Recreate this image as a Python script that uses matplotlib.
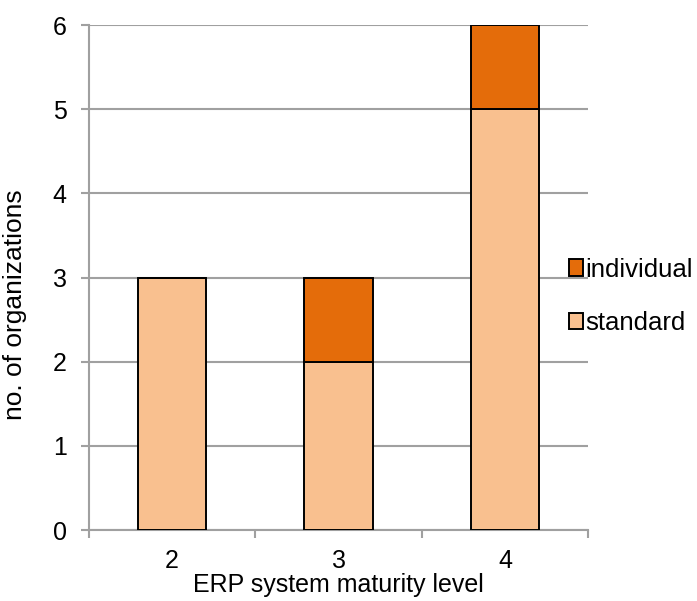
import numpy as np
import matplotlib.pyplot as plt

plt.rcParams['font.family'] = ['Liberation Sans', 'DejaVu Sans']

# dados
niveis = ["2", "3", "4"]
standard = [3, 2, 5]
individual = [0, 1, 1]

cor_standard = "#F9C08F"
cor_individual = "#E46C0A"

fig = plt.figure(figsize=(6.97, 6.01), dpi=100)
ax = fig.add_axes([0.1277, 0.1181, 0.716, 0.8403])

x = np.arange(len(niveis))
largura = 0.41
ax.bar(x, standard, largura, color=cor_standard, edgecolor="black",
       linewidth=1.4, label="standard", zorder=3)
ax.bar(x, individual, largura, bottom=standard, color=cor_individual,
       edgecolor="black", linewidth=1.4, label="individual", zorder=3)

ax.set_xlim(-0.5, 2.5)
ax.set_ylim(0, 6)
ax.set_yticks(range(0, 7))
ax.set_xticks(x)
ax.set_xticklabels(niveis)
ax.set_xticks([-0.5, 0.5, 1.5, 2.5], minor=True)

ax.grid(axis="y", color="#A0A0A0", linewidth=1.5, zorder=0)
for lado in ["top", "right"]:
    ax.spines[lado].set_visible(False)
for lado in ["left", "bottom"]:
    ax.spines[lado].set_color("#A0A0A0")
    ax.spines[lado].set_linewidth(1.5)

ax.tick_params(axis="x", which="major", length=0, pad=14, labelsize=18)
ax.tick_params(axis="x", which="minor", length=6, width=1.5, color="#A0A0A0")
ax.tick_params(axis="y", length=6, width=1.5, color="#A0A0A0", pad=10, labelsize=18)

ax.set_xlabel("ERP system maturity level", fontsize=18, labelpad=0)
ax.set_ylabel("no. of organizations", fontsize=19)
ax.yaxis.set_label_coords(-0.125, 0.447)

handles, labels = ax.get_legend_handles_labels()
fig.legend(handles[::-1], labels[::-1], loc="center left",
           bbox_to_anchor=(0.816, 0.507), frameon=False, fontsize=18.5,
           borderpad=0, borderaxespad=0,
           handlelength=0.55, handleheight=0.6, handletextpad=0.08,
           labelspacing=1.15)

fig.savefig("out.png", dpi=100)
